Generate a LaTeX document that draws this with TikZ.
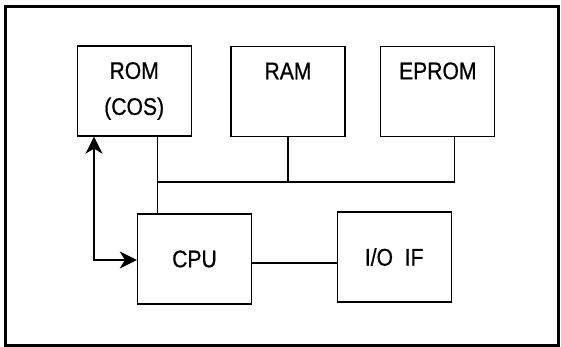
\documentclass[tikz,border=0pt]{standalone}
\usepackage{fontspec}
\usepackage{graphicx}
\setmainfont{Liberation Sans}
\newfontfamily\heavyfont{Liberation Sans}[FakeBold=0.8]
\usetikzlibrary{arrows.meta}
\newcommand{\narrowtxt}[1]{\scalebox{0.88}[1]{#1}}
\begin{document}
\begin{tikzpicture}[x=1pt,y=-1pt,
  blk/.style={draw,line width=1.3pt,minimum width=114pt,minimum height=90pt,inner sep=0pt,align=center,
    font=\heavyfont\fontsize{24}{36}\selectfont},
  wire/.style={line width=1.3pt},
  arr/.style={line width=2pt,{Stealth[length=17pt,width=17pt,inset=5pt]}-{Stealth[length=17pt,width=17pt,inset=5pt]}}]
\useasboundingbox (0,0) rectangle (561,347);
\draw[line width=3pt] (5.5,6.5) rectangle (558,345);
\node[blk] (rom) at (134.2,91) {\narrowtxt{ROM}\\\narrowtxt{(COS)}};
\node[blk] (ram) at (288,91.5) {\narrowtxt{RAM}\\\phantom{(COS)}};
\node[blk] (eprom) at (437.8,91.3) {\narrowtxt{EPROM}\\\phantom{(COS)}};
\node[blk] (cpu) at (194.5,259) {\narrowtxt{CPU}};
\node[blk] (io) at (394.2,257) {\narrowtxt{I/O\ \ IF}};
\coordinate (bl) at (157.7,182);
\coordinate (br) at (454.7,182);
\coordinate (ac) at (94,260);
\coordinate (ci) at ([yshift=-4pt]cpu.east);
\draw[wire] (rom.south -| bl) -- (cpu.north -| bl);
\draw[wire] (bl) -- (br);
\draw[wire] (ram.south) -- (ram.south |- bl);
\draw[wire] (eprom.south -| br) -- (br);
\draw[wire] (ci) -- (io.west |- ci);
\draw[arr] (rom.south -| ac) -- (ac) -- (cpu.west |- ac);
\end{tikzpicture}
\end{document}
